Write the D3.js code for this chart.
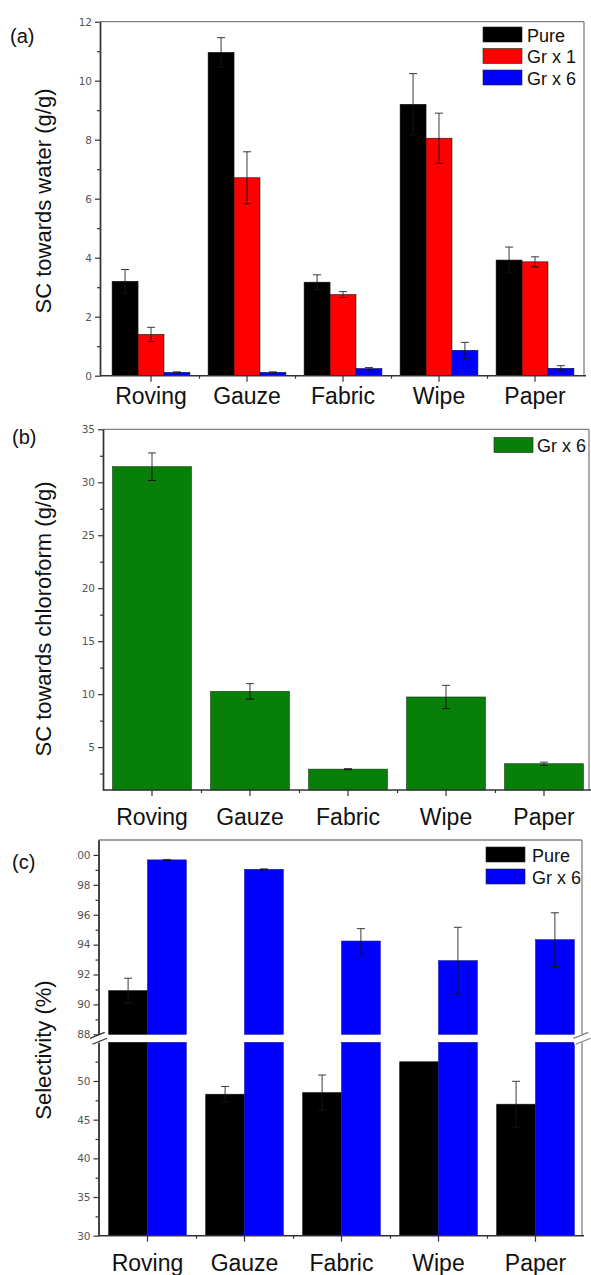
<!DOCTYPE html>
<html>
<head>
<meta charset="utf-8">
<script src="https://cdn.jsdelivr.net/npm/d3@7"></script>
<style>
  html, body { margin: 0; padding: 0; background: #fff; }
  svg { display: block; font-family: "Liberation Sans", Arial, sans-serif; }
</style>
</head>
<body>
<svg id="chart" width="591" height="1275"></svg>
<script>
// ---------------- DATA ----------------
const categories = ["Roving", "Gauze", "Fabric", "Wipe", "Paper"];

// (a) SC towards water (g/g)
const waterSeries = ["Pure", "Gr x 1", "Gr x 6"];
const waterPure    = [3.20, 10.96, 3.17, 9.20, 3.92];
const waterPureErr = [0.40, 0.50, 0.25, 1.04, 0.44];
const waterGr1     = [1.40, 6.71, 2.75, 8.05, 3.86];
const waterGr1Err  = [0.24, 0.88, 0.10, 0.85, 0.17];
const waterGr6     = [0.11, 0.11, 0.24, 0.86, 0.25];
const waterGr6Err  = [0.02, 0.02, 0.04, 0.27, 0.09];
const waterTicks   = [0, 2, 4, 6, 8, 10, 12];
const waterMinor   = [1, 3, 5, 7, 9, 11];

// (b) SC towards chloroform (g/g)
const chloroSeries = ["Gr x 6"];
const chloroGr6    = [31.47, 10.26, 2.92, 9.73, 3.43];
const chloroGr6Err = [1.30, 0.73, 0.05, 1.10, 0.15];
const chloroTicks  = [5, 10, 15, 20, 25, 30, 35];
const chloroMinor  = [2.5, 7.5, 12.5, 17.5, 22.5, 27.5, 32.5];

// (c) Selectivity (%)
const selSeries  = ["Pure", "Gr x 6"];
const selPure    = [90.92, 48.29, 48.50, 52.48, 47.00];
const selPureErr = [0.83, 1.00, 2.27, 0.00, 2.96];
const selGr6     = [99.67, 99.04, 94.24, 92.93, 94.33];
const selGr6Err  = [0.03, 0.03, 0.83, 2.23, 1.80];
const selUpperTicks = [88, 90, 92, 94, 96, 98, 100];
const selUpperMinor = [89, 91, 93, 95, 97, 99];
const selLowerTicks = [30, 35, 40, 45, 50];
const selLowerMinor = [32.5, 37.5, 42.5, 47.5, 52.5];

// ---------------- STYLE ----------------
const colors = { "Pure": "#000000", "Gr x 1": "#ff0000", "Gr x 6": "#0000ff" };
const green = "#087f08";
const axisColor = "#333";
const frameColor = "#808080";
const errColorOut = "#3a3a3a";
const errColorIn = "#141414";
const tickLabelColor = "#555";

const svg = d3.select("#chart");

function styleAxis(g) {
  g.selectAll(".domain").attr("stroke", axisColor).attr("stroke-width", 1.4);
  g.selectAll(".tick line").attr("stroke", axisColor).attr("stroke-width", 1.2);
  g.selectAll(".tick text").attr("fill", tickLabelColor).attr("font-size", 10.5)
    .attr("font-family", "'DejaVu Sans', sans-serif");
}

function yAxisGroup(parent, y, x0, majors, minors, fmt) {
  const g = parent.append("g").attr("transform", `translate(${x0},0)`);
  g.append("g").call(d3.axisLeft(y).tickValues(minors).tickSize(3).tickSizeOuter(0).tickFormat(""))
    .call(styleAxis);
  g.append("g").call(d3.axisLeft(y).tickValues(majors).tickSize(5).tickSizeOuter(0).tickPadding(3)
    .tickFormat(fmt || d3.format("d"))).call(styleAxis);
  return g;
}

function xAxisGroup(x, y0, pad) {
  const g = svg.append("g").attr("transform", `translate(0,${y0})`);
  const [r0, r1] = x.range();
  const lin = d3.scaleLinear().domain([0, categories.length]).range([r0, r1]);
  g.append("g").call(d3.axisBottom(lin).tickValues([1, 2, 3, 4]).tickSize(3).tickFormat("").tickSizeOuter(0))
    .call(styleAxis);
  g.append("g").call(d3.axisBottom(x).tickSize(6).tickPadding(pad).tickSizeOuter(0))
    .call(styleAxis)
    .selectAll(".tick text").attr("font-size", 23).attr("fill", "#111")
    .attr("font-family", "'Liberation Sans', Arial, sans-serif");
  g.selectAll(".domain").remove();
  return g;
}

function frame(xL, xR, yT, yB) {
  svg.append("line").attr("x1", xL).attr("x2", xR).attr("y1", yT).attr("y2", yT)
    .attr("stroke", frameColor).attr("stroke-width", 1.3);
  svg.append("line").attr("x1", xR).attr("x2", xR).attr("y1", yT).attr("y2", yB)
    .attr("stroke", frameColor).attr("stroke-width", 1.3);
  svg.append("line").attr("x1", xL).attr("x2", xR + 2).attr("y1", yB).attr("y2", yB)
    .attr("stroke", axisColor).attr("stroke-width", 1.4);
}

// error bar: part above the bar top drawn grey, part inside the bar drawn near-black
function errorBar(g, cx, yTop, yBar, yBot, cap) {
  g.append("line").attr("x1", cx).attr("x2", cx).attr("y1", yTop).attr("y2", yBar)
    .attr("stroke", errColorOut).attr("stroke-width", 1);
  g.append("line").attr("x1", cx).attr("x2", cx).attr("y1", yBar).attr("y2", yBot)
    .attr("stroke", errColorIn).attr("stroke-width", 1);
  g.append("line").attr("x1", cx - 4).attr("x2", cx + 4).attr("y1", yTop).attr("y2", yTop)
    .attr("stroke", errColorOut).attr("stroke-width", 1);
  g.append("line").attr("x1", cx - 4).attr("x2", cx + 4).attr("y1", yBot).attr("y2", yBot)
    .attr("stroke", errColorIn).attr("stroke-width", 1);
}

function yTitle(text, x, y) {
  svg.append("text").attr("transform", `translate(${x},${y}) rotate(-90)`)
    .attr("text-anchor", "middle").attr("font-size", 22).attr("fill", "#111").text(text);
}
function panelLabel(text, x, y) {
  svg.append("text").attr("x", x).attr("y", y).attr("font-size", 20).attr("fill", "#111").text(text);
}
function legend(items, x, y0, dy, textX) {
  items.forEach((it, i) => {
    svg.append("rect").attr("x", x).attr("y", y0 + i * dy).attr("width", 39).attr("height", 15)
      .attr("fill", it.color).attr("stroke", "#222").attr("stroke-width", 0.6);
    svg.append("text").attr("x", textX).attr("y", y0 + i * dy + 14.5).attr("font-size", 18)
      .attr("fill", "#111").text(it.label);
  });
}

// ---------------- PANEL (a) ----------------
(function () {
  const x = d3.scaleBand().domain(categories).range([103, 583]).paddingInner(0).paddingOuter(0);
  const y = d3.scaleLinear().domain([0, 12]).range([375.7, 21.7]);
  const xs = d3.scaleBand().domain(waterSeries).range([0, x.bandwidth() * 0.81]);
  const off = (x.bandwidth() - x.bandwidth() * 0.81) / 2;
  const vals = { "Pure": [waterPure, waterPureErr], "Gr x 1": [waterGr1, waterGr1Err], "Gr x 6": [waterGr6, waterGr6Err] };
  const g = svg.append("g");
  waterSeries.forEach(s => {
    categories.forEach((c, i) => {
      const v = vals[s][0][i], e = vals[s][1][i];
      const bx = x(c) + off + xs(s);
      g.append("rect").attr("x", bx).attr("y", y(v)).attr("width", xs.bandwidth())
        .attr("height", y(0) - y(v)).attr("fill", colors[s])
        .attr("stroke", s === "Gr x 6" ? "#000066" : "#111").attr("stroke-width", 0.6);
      errorBar(g, bx + xs.bandwidth() / 2, y(v + e), y(v), y(v - e), 8);
    });
  });
  frame(100, 584, 21.7, 375.7);
  yAxisGroup(svg, y, 100, waterTicks, waterMinor);
  xAxisGroup(x, 375.7, 5.5);
  yTitle("SC towards water (g/g)", 51, 201);
  panelLabel("(a)", 10, 43);
  legend(waterSeries.map(s => ({ label: s, color: colors[s] })), 483, 27, 21.5, 527);
})();

// ---------------- PANEL (b) ----------------
(function () {
  const x = d3.scaleBand().domain(categories).range([103, 593]).paddingInner(0).paddingOuter(0);
  const y = d3.scaleLinear().domain([0.95, 35]).range([790, 429.3]);
  const g = svg.append("g");
  const bw = x.bandwidth() * 0.805;
  categories.forEach((c, i) => {
    const v = chloroGr6[i], e = chloroGr6Err[i];
    const bx = x(c) + (x.bandwidth() - bw) / 2;
    g.append("rect").attr("x", bx).attr("y", y(v)).attr("width", bw).attr("height", y(0.95) - y(v))
      .attr("fill", green).attr("stroke", "#0b3d0b").attr("stroke-width", 0.6);
    errorBar(g, bx + bw / 2, y(v + e), y(v), y(v - e), 8);
  });
  frame(103, 589, 429.3, 790);
  yAxisGroup(svg, y, 103, chloroTicks, chloroMinor);
  xAxisGroup(x, 790, 12.5);
  yTitle("SC towards chloroform (g/g)", 51, 619);
  panelLabel("(b)", 12, 444);
  legend(chloroSeries.map(s => ({ label: s, color: green })), 494, 437.5, 0, 537);
})();

// ---------------- PANEL (c) ----------------
(function () {
  const x = d3.scaleBand().domain(categories).range([99, 584]).paddingInner(0).paddingOuter(0);
  const yUp = d3.scaleLinear().domain([88, 101]).range([1034.3, 840]);
  const yLo = d3.scaleLinear().domain([30, 55]).range([1235.7, 1042.3]);
  const xs = d3.scaleBand().domain(selSeries).range([0, x.bandwidth() * 0.8]);
  const off = (x.bandwidth() - x.bandwidth() * 0.8) / 2;
  const vals = { "Pure": [selPure, selPureErr], "Gr x 6": [selGr6, selGr6Err] };
  const g = svg.append("g");
  selSeries.forEach(s => {
    categories.forEach((c, i) => {
      const v = vals[s][0][i], e = vals[s][1][i];
      const bx = x(c) + off + xs(s);
      const w = xs.bandwidth();
      const stroke = s === "Pure" ? "#111" : "#1a1a99";
      const topLo = Math.min(v, 55);
      g.append("rect").attr("x", bx).attr("y", yLo(topLo)).attr("width", w)
        .attr("height", yLo(30) - yLo(topLo)).attr("fill", colors[s]).attr("stroke", stroke).attr("stroke-width", 0.6);
      if (v > 88) {
        g.append("rect").attr("x", bx).attr("y", yUp(v)).attr("width", w)
          .attr("height", yUp(88) - yUp(v)).attr("fill", colors[s]).attr("stroke", stroke).attr("stroke-width", 0.6);
        if (e > 0) errorBar(g, bx + w / 2, yUp(v + e), yUp(v), yUp(v - e), 8);
      } else if (e > 0) {
        errorBar(g, bx + w / 2, yLo(v + e), yLo(v), yLo(v - e), 8);
      }
    });
  });
  // frame with break
  svg.append("line").attr("x1", 98.5).attr("x2", 582).attr("y1", 840).attr("y2", 840)
    .attr("stroke", frameColor).attr("stroke-width", 1.3);
  svg.append("line").attr("x1", 582).attr("x2", 582).attr("y1", 840).attr("y2", 1034.3)
    .attr("stroke", frameColor).attr("stroke-width", 1.3);
  svg.append("line").attr("x1", 582).attr("x2", 582).attr("y1", 1042.3).attr("y2", 1235.7)
    .attr("stroke", frameColor).attr("stroke-width", 1.3);
  svg.append("line").attr("x1", 98.5).attr("x2", 584).attr("y1", 1235.7).attr("y2", 1235.7)
    .attr("stroke", axisColor).attr("stroke-width", 1.4);

  // upper axis segment (label column clipped at the left, as in the original figure)
  svg.append("clipPath").attr("id", "clipUp").append("rect")
    .attr("x", 76).attr("y", 820).attr("width", 520).attr("height", 230);
  const upWrap = svg.append("g").attr("clip-path", "url(#clipUp)");
  yAxisGroup(upWrap, yUp, 98.5, selUpperTicks, selUpperMinor);
  yAxisGroup(svg, yLo, 98.5, selLowerTicks, selLowerMinor);
  xAxisGroup(x, 1235.7, 12.5);

  // break marks
  [[98.5, 1038.3], [582, 1038.3]].forEach(([bx, by]) => {
    svg.append("rect").attr("x", bx - 9).attr("y", by - 3.2).attr("width", 18).attr("height", 6.4)
      .attr("fill", "#fff").attr("transform", `rotate(-22,${bx},${by})`);
    [-3.2, 3.2].forEach(d => {
      svg.append("line").attr("x1", bx - 8).attr("x2", bx + 8).attr("y1", by + d).attr("y2", by + d)
        .attr("stroke", bx < 300 ? axisColor : frameColor).attr("stroke-width", 1.2)
        .attr("transform", `rotate(-22,${bx},${by})`);
    });
  });

  yTitle("Selectivity (%)", 51, 1050);
  panelLabel("(c)", 12, 869);
  legend(selSeries.map(s => ({ label: s, color: colors[s] })), 486, 847, 22, 532);
})();
</script>
</body>
</html>
